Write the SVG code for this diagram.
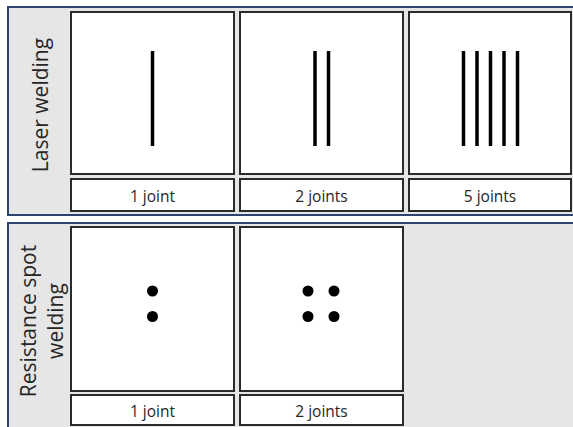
<svg xmlns="http://www.w3.org/2000/svg" width="573" height="427" viewBox="0 0 573 427">
<style>
.panel{fill:#e6e6e6;stroke:#2c4570;stroke-width:2}
.box{fill:#ffffff;stroke:#2b2b2b;stroke-width:2}
.lbl{font-family:"Open Sans","Liberation Sans",Arial,sans-serif;font-size:15.5px;fill:#262626;text-anchor:middle}
.side{font-family:"Open Sans","Liberation Sans",Arial,sans-serif;font-size:21px;fill:#262626;text-anchor:middle}
.weld{stroke:#000;stroke-width:3.5}
.spot{fill:#000}
</style>
<rect width="573" height="427" fill="#ffffff"/>
<g id="panel-laser">
  <rect class="panel" x="8" y="7" width="570" height="208"/>
  <text class="side" transform="translate(48,105) rotate(-90)">Laser welding</text>
</g>
<g id="panel-spot">
  <rect class="panel" x="8" y="223" width="570" height="212"/>
  <text class="side" transform="translate(36,321) rotate(-90)">Resistance spot</text>
  <text class="side" transform="translate(63,321) rotate(-90)">welding</text>
</g>
<g id="laser-1">
  <rect class="box" x="71" y="12" width="163" height="162"/>
  <line class="weld" x1="152.5" y1="51" x2="152.5" y2="146"/>
  <rect class="box" x="71" y="179" width="163" height="32"/>
  <text class="lbl" x="152.5" y="201.5">1 joint</text>
</g>
<g id="laser-2">
  <rect class="box" x="240" y="12" width="163" height="162"/>
  <line class="weld" x1="315" y1="51" x2="315" y2="146"/>
  <line class="weld" x1="328.5" y1="51" x2="328.5" y2="146"/>
  <rect class="box" x="240" y="179" width="163" height="32"/>
  <text class="lbl" x="321.5" y="201.5">2 joints</text>
</g>
<g id="laser-5">
  <rect class="box" x="409" y="12" width="162" height="162"/>
  <line class="weld" x1="463.5" y1="51" x2="463.5" y2="146"/>
  <line class="weld" x1="477" y1="51" x2="477" y2="146"/>
  <line class="weld" x1="490.5" y1="51" x2="490.5" y2="146"/>
  <line class="weld" x1="504" y1="51" x2="504" y2="146"/>
  <line class="weld" x1="517.5" y1="51" x2="517.5" y2="146"/>
  <rect class="box" x="409" y="179" width="162" height="32"/>
  <text class="lbl" x="490" y="201.5">5 joints</text>
</g>
<g id="spot-1">
  <rect class="box" x="71" y="227" width="163" height="164"/>
  <circle class="spot" cx="152.5" cy="291" r="5.5"/>
  <circle class="spot" cx="152.5" cy="316.5" r="5.5"/>
  <rect class="box" x="71" y="395" width="163" height="30"/>
  <text class="lbl" x="152.5" y="417">1 joint</text>
</g>
<g id="spot-2">
  <rect class="box" x="240" y="227" width="163" height="164"/>
  <circle class="spot" cx="308" cy="291" r="5.5"/>
  <circle class="spot" cx="334" cy="291" r="5.5"/>
  <circle class="spot" cx="308" cy="316.5" r="5.5"/>
  <circle class="spot" cx="334" cy="316.5" r="5.5"/>
  <rect class="box" x="240" y="395" width="163" height="30"/>
  <text class="lbl" x="321.5" y="417">2 joints</text>
</g>
<g id="connectors"/>
</svg>
